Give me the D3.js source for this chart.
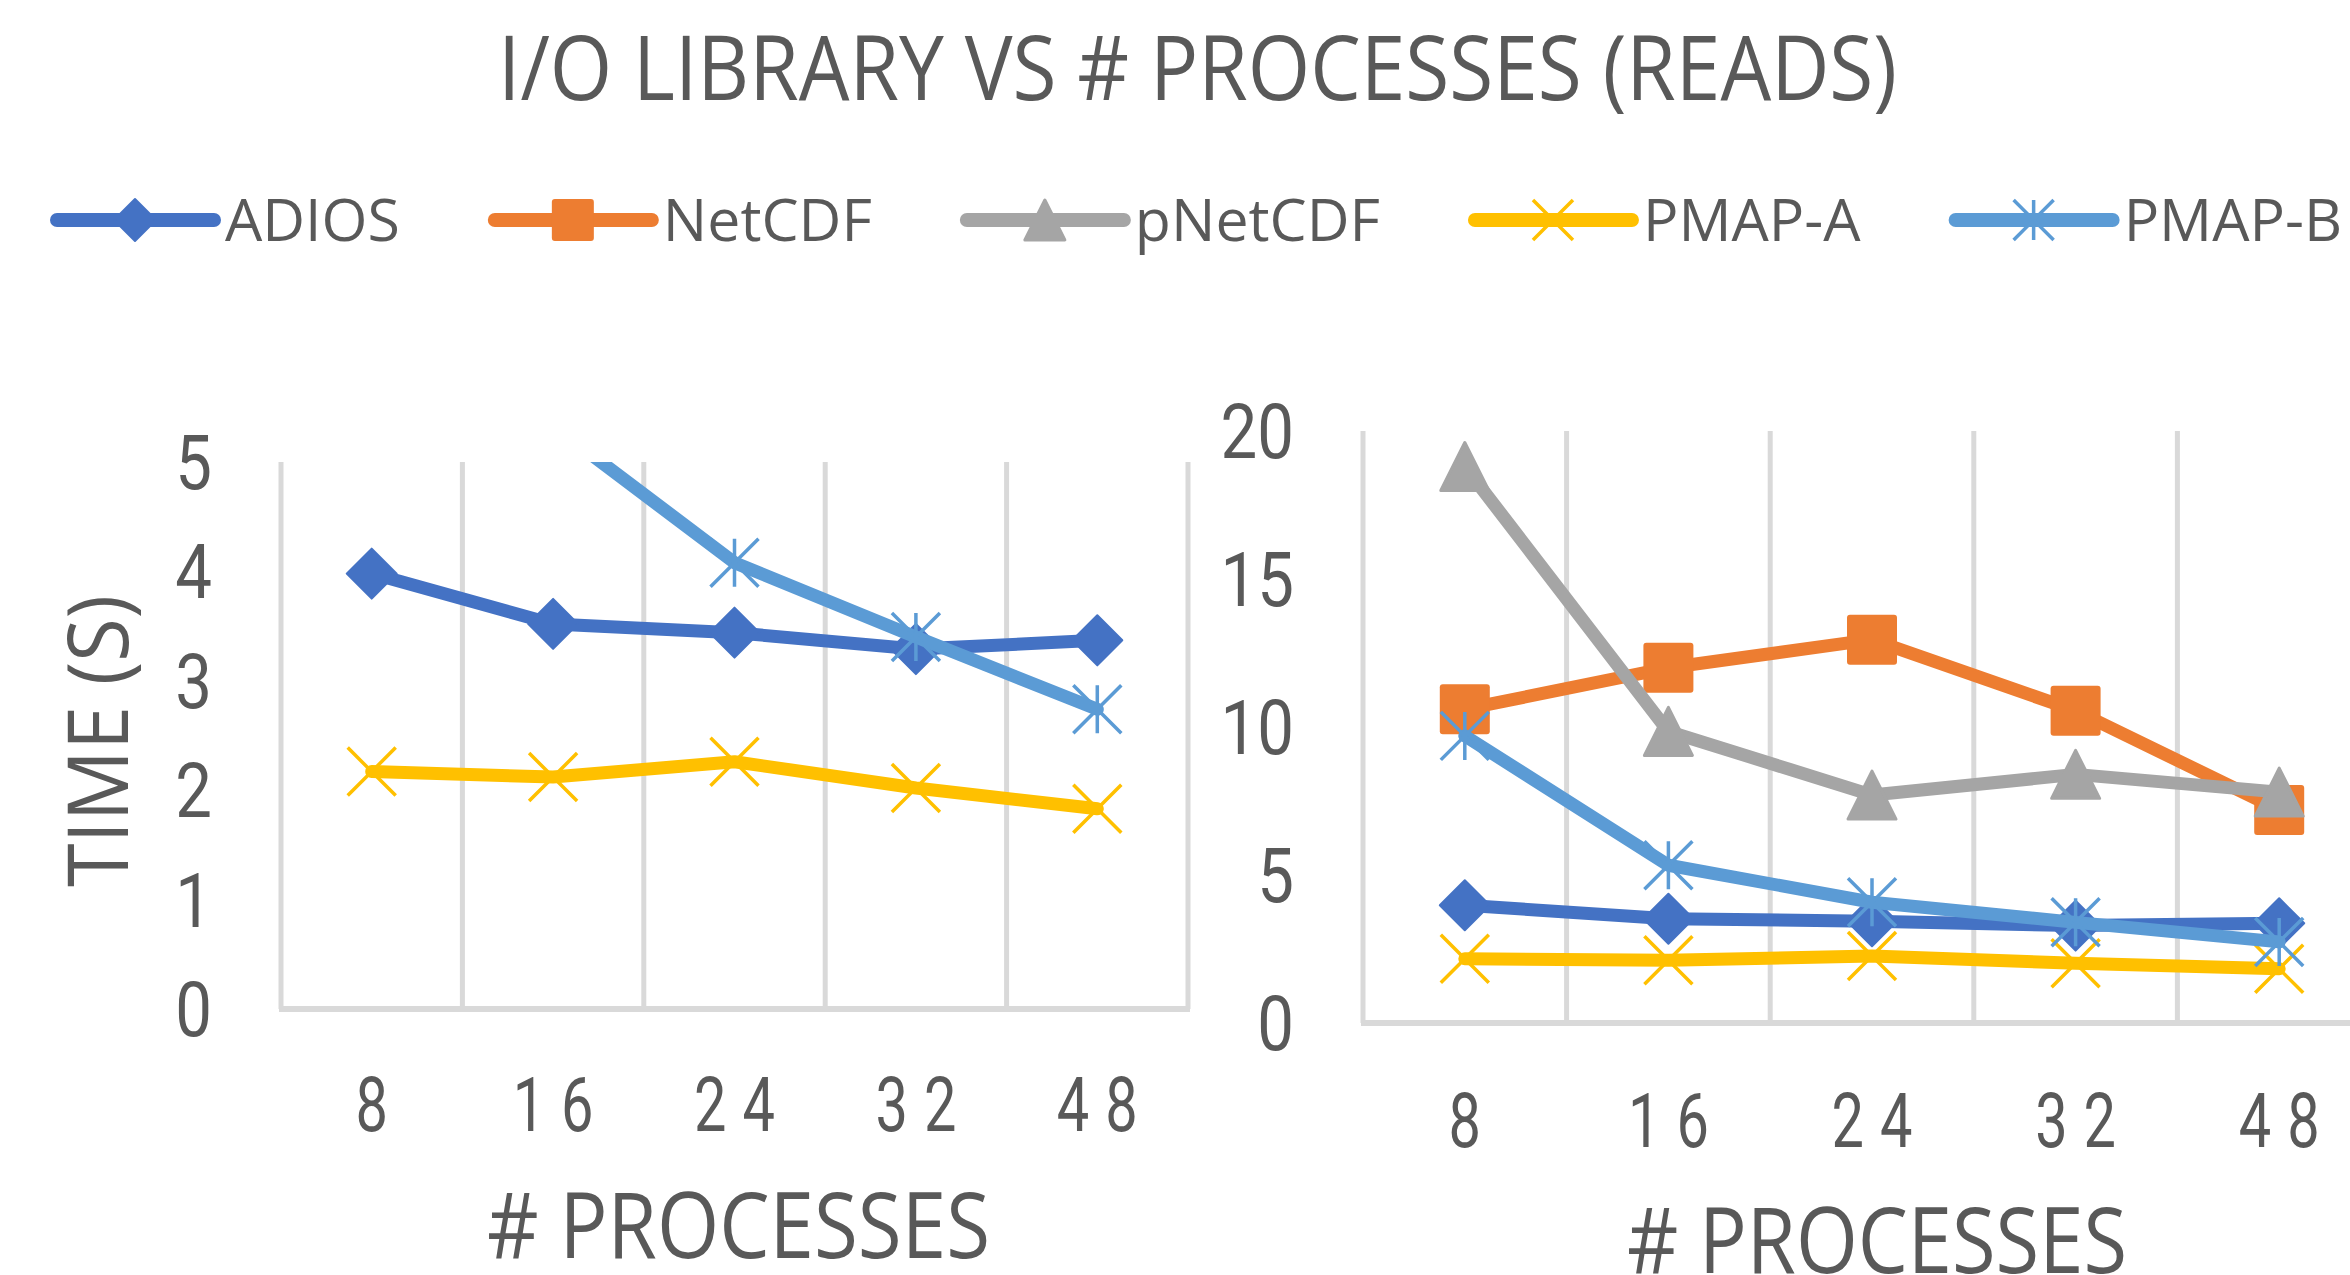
<!DOCTYPE html>
<html>
<head>
<meta charset="utf-8">
<script src="https://cdn.jsdelivr.net/npm/d3@7"></script>
<style>
  html, body { margin: 0; padding: 0; background: #fff; }
  svg { display: block; }
  text { fill: #595959; }
</style>
</head>
<body>
<svg id="chart" width="2350" height="1275"></svg>
<script>
// data
const categories = ["8", "16", "24", "32", "48"];
const seriesNames = ["ADIOS", "NetCDF", "pNetCDF", "PMAP-A", "PMAP-B"];
const adios   = [3.98, 3.52, 3.44, 3.29, 3.37];
const netcdf  = [10.6, 12.0, 12.95, 10.55, 7.2];
const pnetcdf = [18.8, 9.85, 7.7, 8.4, 7.8];
const pmapA   = [2.17, 2.12, 2.26, 2.02, 1.83];
const pmapB   = [9.7, 5.33, 4.08, 3.4, 2.74];
const leftTicks = [0, 1, 2, 3, 4, 5];
const rightTicks = [0, 5, 10, 15, 20];
const titleText = "I/O LIBRARY VS # PROCESSES (READS)";
const xTitle = "# PROCESSES";
const yTitle = "TIME (S)";

const colors = ["#4472C4", "#ED7D31", "#A5A5A5", "#FFC000", "#5B9BD5"];
const markers = ["diamond", "square", "triangle", "x", "star"];
const values = [adios, netcdf, pnetcdf, pmapA, pmapB];

const series = seriesNames.map((name, i) => ({
  name, color: colors[i], marker: markers[i], values: values[i]
}));

const svg = d3.select("#chart");
const GRID = "#D9D9D9";
const SANS = "'Open Sans', 'Noto Sans', sans-serif";
const NUM = "Roboto, 'Open Sans', sans-serif";

function drawMarker(g, type, cx, cy, s, color) {
  const h = s / 2;
  if (type === "diamond") {
    g.append("path")
      .attr("d", `M${cx},${cy - h}L${cx + h},${cy}L${cx},${cy + h}L${cx - h},${cy}Z`)
      .attr("fill", color).attr("stroke", color).attr("stroke-width", 2)
      .attr("stroke-linejoin", "round");
  } else if (type === "square") {
    g.append("rect")
      .attr("x", cx - h).attr("y", cy - h).attr("width", s).attr("height", s)
      .attr("rx", 3).attr("fill", color);
  } else if (type === "triangle") {
    g.append("path")
      .attr("d", `M${cx},${cy - h + 1}L${cx + h - 1},${cy + h - 1}L${cx - h + 1},${cy + h - 1}Z`)
      .attr("fill", color).attr("stroke", color).attr("stroke-width", 3)
      .attr("stroke-linejoin", "round");
  } else {
    const k = h - 1;
    let d = `M${cx - k},${cy - k}L${cx + k},${cy + k}M${cx + k},${cy - k}L${cx - k},${cy + k}`;
    if (type === "star") d += `M${cx},${cy - k}L${cx},${cy + k}`;
    g.append("path").attr("d", d)
      .attr("fill", "none").attr("stroke", color).attr("stroke-width", 3.5);
  }
}

// title
svg.append("text")
  .attr("x", 498).attr("y", 100)
  .attr("font-family", SANS).attr("font-size", 90)
  .attr("textLength", 1399).attr("lengthAdjust", "spacingAndGlyphs")
  .text(titleText);

// legend
const legend = svg.append("g");
let lx = 57;
series.forEach(s => {
  const g = legend.append("g");
  g.append("line")
    .attr("x1", lx).attr("x2", lx + 157).attr("y1", 220).attr("y2", 220)
    .attr("stroke", s.color).attr("stroke-width", 14).attr("stroke-linecap", "round");
  drawMarker(g, s.marker, lx + 78, 220, 42, s.color);
  const t = g.append("text")
    .attr("x", lx + 168).attr("y", 241)
    .attr("font-family", SANS).attr("font-size", 59)
    .text(s.name);
  lx += 168 + t.node().getComputedTextLength() + 95;
});

// two panels: the same data, different y ranges
const panels = [
  { id: "left", x0: 281, x1: 1188, y0: 1009, yTop: 462, max: 5, ticks: leftTicks,
    tickBase: 1131, titleBase: 1258, titleX: 487, titleLen: 503 },
  { id: "right", x0: 1363, x1: 2381, y0: 1023, yTop: 431, max: 20, ticks: rightTicks,
    tickBase: 1147, titleBase: 1273, titleX: 1627, titleLen: 500 }
];

const defs = svg.append("defs");
const tickSpacing = 21;

panels.forEach(p => {
  const x = d3.scaleBand().domain(categories).range([p.x0, p.x1]).padding(0);
  const y = d3.scaleLinear().domain([0, p.max]).range([p.y0, p.yTop]);
  const g = svg.append("g");

  // vertical gridlines at category boundaries
  const bounds = categories.map(c => x(c)).concat([p.x1]);
  g.selectAll(".grid").data(bounds).join("line")
    .attr("x1", d => d).attr("x2", d => d)
    .attr("y1", y(p.max)).attr("y2", y(0))
    .attr("stroke", GRID).attr("stroke-width", 5);

  // category axis line
  g.append("line")
    .attr("x1", p.x0 - 2).attr("x2", p.x1 + 2)
    .attr("y1", y(0)).attr("y2", y(0))
    .attr("stroke", GRID).attr("stroke-width", 6);

  // y tick labels
  g.selectAll(".ytick").data(p.ticks).join("text")
    .attr("transform", d => `translate(${p.x0 - 69},${y(d) + 27}) scale(0.86,1)`)
    .attr("text-anchor", "end")
    .attr("font-family", NUM).attr("font-size", 76)
    .text(d => d);

  // x tick labels (narrow digits, wide spacing)
  g.selectAll(".xtick").data(categories).join("text")
    .attr("transform", d => `translate(${x(d) + x.bandwidth() / 2},${p.tickBase}) scale(0.76,1)`)
    .attr("dx", tickSpacing / 2)
    .attr("text-anchor", "middle")
    .attr("font-family", NUM).attr("font-size", 76)
    .attr("letter-spacing", tickSpacing)
    .text(d => d);

  // x axis title
  g.append("text")
    .attr("x", p.titleX).attr("y", p.titleBase)
    .attr("font-family", SANS).attr("font-size", 91)
    .attr("textLength", p.titleLen).attr("lengthAdjust", "spacingAndGlyphs")
    .text(xTitle);

  // plot area clip
  defs.append("clipPath").attr("id", "clip-" + p.id)
    .append("rect")
    .attr("x", p.x0).attr("y", p.yTop)
    .attr("width", p.x1 - p.x0).attr("height", p.y0 - p.yTop + 40);

  const plot = g.append("g").attr("clip-path", `url(#clip-${p.id})`);
  const line = d3.line()
    .x((d, i) => x(categories[i]) + x.bandwidth() / 2)
    .y(d => y(d));

  series.forEach(s => {
    const sg = plot.append("g");
    sg.append("path")
      .attr("d", line(s.values))
      .attr("fill", "none").attr("stroke", s.color)
      .attr("stroke-width", 13).attr("stroke-linejoin", "round").attr("stroke-linecap", "round");
    s.values.forEach((v, i) => {
      drawMarker(sg, s.marker, x(categories[i]) + x.bandwidth() / 2, y(v), 50, s.color);
    });
  });
});

// y axis title (left panel only)
svg.append("text")
  .attr("transform", "translate(128,741) rotate(-90)")
  .attr("x", -146).attr("y", 0)
  .attr("font-family", SANS).attr("font-size", 84)
  .attr("textLength", 292).attr("lengthAdjust", "spacingAndGlyphs")
  .text(yTitle);
</script>
</body>
</html>
